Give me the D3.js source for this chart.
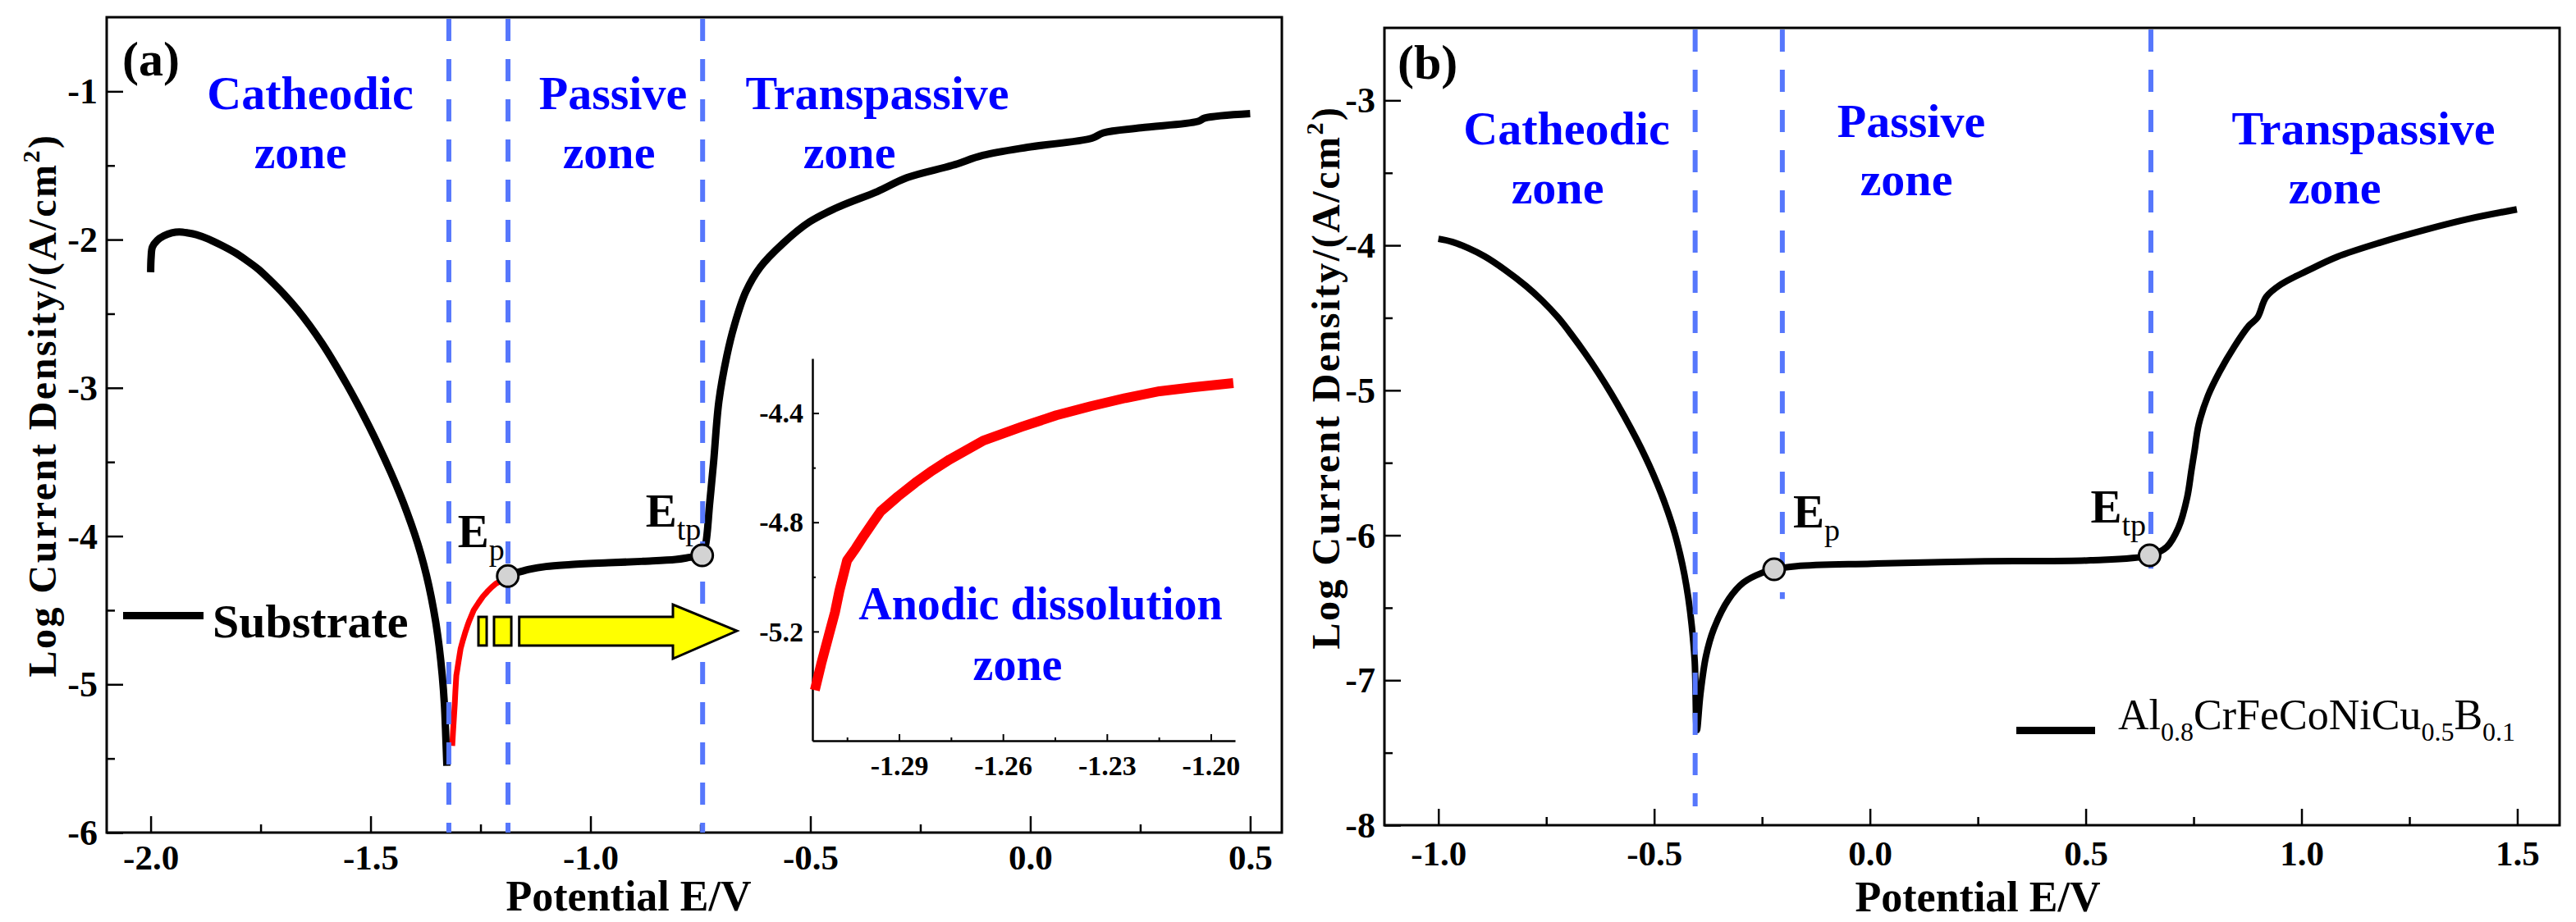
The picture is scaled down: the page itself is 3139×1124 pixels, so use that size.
<!DOCTYPE html>
<html>
<head>
<meta charset="utf-8">
<script src="https://cdnjs.cloudflare.com/ajax/libs/d3/7.8.5/d3.min.js"></script>
<style>
    html, body { margin: 0; padding: 0; background: #fff; }
    svg text { font-family: "Liberation Serif", "Times New Roman", serif; }
</style>
</head>
<body>
<div id="chart"></div>
<script>
// tick values
const xTicksA = [-2.0, -1.5, -1.0, -0.5, 0.0, 0.5];
const xMinorA = [-1.75, -1.25, -0.75, -0.25, 0.25];
const yTicksA = [-6, -5, -4, -3, -2, -1];
const yMinorA = [-5.5, -4.5, -3.5, -2.5, -1.5];
const xTicksB = [-1.0, -0.5, 0.0, 0.5, 1.0, 1.5];
const xMinorB = [-0.75, -0.25, 0.25, 0.75, 1.25];
const yTicksB = [-8, -7, -6, -5, -4, -3];
const yMinorB = [-7.5, -6.5, -5.5, -4.5, -3.5];
const insetXTicks = [-1.29, -1.26, -1.23, -1.20];
const insetXMinor = [-1.305, -1.275, -1.245, -1.215];
const insetYTicks = [-5.2, -4.8, -4.4];
const insetYMinor = [-5.4, -5.0, -4.6];

// (a) substrate: cathodic branch, anodic dissolution (red), passive + transpassive
const substrateCathodic = [
    [-2.000, -2.22], [-1.999, -2.12], [-1.996, -2.05], [-1.985, -2.005], [-1.970, -1.975],
    [-1.952, -1.955], [-1.935, -1.948], [-1.915, -1.955], [-1.896, -1.967], [-1.870, -1.995],
    [-1.840, -2.037], [-1.810, -2.085], [-1.784, -2.136], [-1.755, -2.200], [-1.728, -2.275],
    [-1.697, -2.368], [-1.666, -2.473], [-1.638, -2.581], [-1.610, -2.701], [-1.582, -2.834],
    [-1.554, -2.977], [-1.530, -3.107], [-1.504, -3.256], [-1.480, -3.402], [-1.454, -3.571],
    [-1.435, -3.704], [-1.417, -3.841], [-1.400, -3.984], [-1.386, -4.117], [-1.373, -4.263],
    [-1.362, -4.412], [-1.352, -4.577], [-1.344, -4.745], [-1.337, -4.941], [-1.332, -5.141],
    [-1.329, -5.351], [-1.3265, -5.550]
];
const anodicDissolution = [
    [-1.3143, -5.415], [-1.3125, -5.32], [-1.3102, -5.21], [-1.3085, -5.13], [-1.3072, -5.05],
    [-1.3050, -4.94], [-1.3025, -4.895], [-1.3002, -4.85], [-1.2975, -4.80], [-1.2953, -4.76],
    [-1.2903, -4.705], [-1.2853, -4.655], [-1.2803, -4.61], [-1.2754, -4.57], [-1.2655, -4.50],
    [-1.2545, -4.45], [-1.2446, -4.408], [-1.2347, -4.375], [-1.2247, -4.345], [-1.2148, -4.32],
    [-1.2049, -4.305], [-1.1935, -4.29]
];
const substratePassive = [
    [-1.188, -4.27], [-1.175, -4.25], [-1.163, -4.243], [-1.140, -4.225], [-1.101, -4.205],
    [-1.050, -4.193], [-0.959, -4.180], [-0.880, -4.170], [-0.806, -4.158], [-0.773, -4.143],
    [-0.746, -4.130], [-0.738, -4.054], [-0.729, -3.780], [-0.720, -3.500], [-0.708, -3.090],
    [-0.690, -2.785], [-0.673, -2.580], [-0.647, -2.353], [-0.614, -2.186], [-0.562, -2.025],
    [-0.502, -1.881], [-0.433, -1.776], [-0.348, -1.676], [-0.280, -1.582], [-0.177, -1.499],
    [-0.108, -1.432], [-0.006, -1.377], [0.140, -1.316], [0.166, -1.280], [0.252, -1.246],
    [0.381, -1.203], [0.397, -1.180], [0.500, -1.150]
];

// (b) Al0.8CrFeCoNiCu0.5B0.1
const alloyCurve = [
    [-1.000, -3.955], [-0.968, -3.976], [-0.930, -4.020], [-0.892, -4.077], [-0.845, -4.170],
    [-0.797, -4.280], [-0.760, -4.380], [-0.722, -4.500], [-0.690, -4.622], [-0.660, -4.745],
    [-0.630, -4.877], [-0.600, -5.020], [-0.570, -5.175], [-0.542, -5.330], [-0.520, -5.462],
    [-0.502, -5.580], [-0.484, -5.710], [-0.468, -5.840], [-0.453, -5.980], [-0.440, -6.130],
    [-0.430, -6.270], [-0.421, -6.430], [-0.413, -6.620], [-0.406, -6.870], [-0.401, -7.344],
    [-0.393, -7.100], [-0.380, -6.835], [-0.362, -6.648], [-0.327, -6.440], [-0.293, -6.326],
    [-0.249, -6.258], [-0.222, -6.235], [-0.170, -6.213], [0.004, -6.196], [0.266, -6.179],
    [0.511, -6.173], [0.648, -6.139], [0.688, -6.080], [0.715, -5.947], [0.735, -5.740],
    [0.745, -5.550], [0.752, -5.420], [0.762, -5.234], [0.783, -5.040], [0.810, -4.873],
    [0.844, -4.700], [0.878, -4.555], [0.898, -4.498], [0.918, -4.357], [0.952, -4.270],
    [1.013, -4.176], [1.082, -4.080], [1.183, -3.980], [1.285, -3.894], [1.387, -3.818],
    [1.499, -3.752]
];

// zone boundaries (potential) and where each dashed line stops (log i)
const zoneBoundsA = [-1.322, -1.1875, -0.745];
const zoneEndsA = [-6, -6, -6];
const zoneBoundsB = [-0.405, -0.203, 0.651];
const zoneEndsB = [-7.87, -6.44, -6.23];

// Ep / Etp points
const keyPointsA = [{ sub: "p", x: -1.188, y: -4.27 }, { sub: "tp", x: -0.746, y: -4.13 }];
const keyPointsB = [{ sub: "p", x: -0.222, y: -6.235 }, { sub: "tp", x: 0.648, y: -6.139 }];

const zoneNames = ["Catheodic", "Passive", "Transpassive"];

// striped arrow (potential / log i of panel a)
const arrowStripes = [[-1.2547, -1.236], [-1.2193, -1.180]];
const arrowBody = [[-1.162, -4.545], [-0.8125, -4.545], [-0.8125, -4.462], [-0.667, -4.639],
    [-0.8125, -4.827], [-0.8125, -4.738], [-1.162, -4.738]];
const arrowBand = [-4.545, -4.738];

document.addEventListener('DOMContentLoaded', function() {
    const width = 3139, height = 1124;
    const svg = d3.select('#chart')
        .append('svg')
        .attr('width', width)
        .attr('height', height);

    const zoneBlue = "#0000ff";
    const dashBlue = "#5677fc";

    function drawPanel(p) {
        const x = d3.scaleLinear().domain(p.xDomain).range([p.left, p.right]);
        const y = d3.scaleLinear().domain(p.yDomain).range([p.bottom, p.top]);
        const g = svg.append("g");

        // axes with inward ticks
        const bx = g.append("g").attr("transform", `translate(0,${p.bottom})`)
            .call(d3.axisBottom(x).tickValues(p.xTicks).tickSizeInner(-20).tickSizeOuter(0));
        bx.selectAll("text").attr("y", p.tickBaseline).attr("dy", null)
            .style("font-size", "43px").style("font-weight", "bold").attr("fill", "#000")
            .text(d => d3.format(".1f")(d).replace("−", "-"));
        g.append("g").attr("transform", `translate(0,${p.bottom})`)
            .call(d3.axisBottom(x).tickValues(p.xMinor).tickSizeInner(-10).tickSizeOuter(0).tickFormat(""));

        const ly = g.append("g").attr("transform", `translate(${p.left},0)`)
            .call(d3.axisLeft(y).tickValues(p.yTicks).tickSizeInner(-20).tickSizeOuter(0).tickPadding(11));
        ly.selectAll("text").attr("dy", "0.33em")
            .style("font-size", "44px").style("font-weight", "bold").attr("fill", "#000")
            .text(d => String(d));
        g.append("g").attr("transform", `translate(${p.left},0)`)
            .call(d3.axisLeft(y).tickValues(p.yMinor).tickSizeInner(-10).tickSizeOuter(0).tickFormat(""));

        g.selectAll(".domain").remove();
        g.selectAll(".tick line").attr("stroke", "#000").attr("stroke-width", 2.5);

        g.append("rect")
            .attr("x", p.left).attr("y", p.top)
            .attr("width", p.right - p.left).attr("height", p.bottom - p.top)
            .attr("fill", "none").attr("stroke", "#000").attr("stroke-width", 3);

        // axis titles
        g.append("text")
            .attr("x", p.xTitle[0]).attr("y", p.xTitle[1])
            .attr("text-anchor", "middle")
            .style("font-size", "52px").style("font-weight", "bold")
            .text("Potential E/V");

        const yt = g.append("text")
            .attr("transform", `translate(${p.yTitle[0]},${p.yTitle[1]}) rotate(-90)`)
            .attr("text-anchor", "middle")
            .style("font-size", "48px").style("font-weight", "bold")
            .style("letter-spacing", "2.5px");
        yt.append("tspan").text("Log Current Density/(A/cm");
        yt.append("tspan").attr("dy", -20).style("font-size", "30px").text("2");
        yt.append("tspan").attr("dy", 20).text(")");

        // panel letter
        g.append("text")
            .attr("x", p.letterPos[0]).attr("y", p.letterPos[1])
            .style("font-size", "60px").style("font-weight", "bold")
            .text(p.letter);

        return { g, x, y };
    }

    const line = (x, y, curve) => d3.line().x(d => x(d[0])).y(d => y(d[1])).curve(curve);

    function drawZones(ctx, bounds, ends, p) {
        ctx.g.append("g").selectAll("line")
            .data(bounds)
            .join("line")
            .attr("x1", d => ctx.x(d)).attr("x2", d => ctx.x(d))
            .attr("y1", p.top + 2)
            .attr("y2", (d, i) => ctx.y(ends[i]))
            .attr("stroke", dashBlue)
            .attr("stroke-width", 6)
            .attr("stroke-dasharray", "27,22");
    }

    function drawZoneText(ctx, spots) {
        spots.forEach((s, i) => {
            [zoneNames[i], "zone"].forEach((t, j) => {
                ctx.g.append("text")
                    .attr("x", s.xs[j]).attr("y", s.ys[j])
                    .attr("text-anchor", "middle")
                    .attr("fill", zoneBlue)
                    .style("font-size", "58px").style("font-weight", "bold")
                    .text(t);
            });
        });
    }

    function drawKeyPoints(ctx, pts, offsets) {
        ctx.g.append("g").selectAll("circle")
            .data(pts)
            .join("circle")
            .attr("cx", d => ctx.x(d.x)).attr("cy", d => ctx.y(d.y))
            .attr("r", 13)
            .attr("fill", "#d3d3d3")
            .attr("stroke", "#000")
            .attr("stroke-width", 3);
        pts.forEach((d, i) => {
            const t = ctx.g.append("text")
                .attr("x", ctx.x(d.x) + offsets[i][0])
                .attr("y", ctx.y(d.y) + offsets[i][1])
                .style("font-size", "57px").style("font-weight", "bold");
            t.append("tspan").text("E");
            t.append("tspan").attr("dy", 16).style("font-size", "38px").style("font-weight", "normal").text(d.sub);
        });
    }

    // ---------- panel (a) ----------
    const pA = {
        left: 130, right: 1562, top: 21, bottom: 1015,
        xDomain: [-2.1, 0.572], yDomain: [-6, -0.5],
        xTicks: xTicksA, xMinor: xMinorA, yTicks: yTicksA, yMinor: yMinorA, tickBaseline: 45,
        xTitle: [766, 1110], yTitle: [68, 494], letter: "(a)", letterPos: [149, 92]
    };
    const a = drawPanel(pA);

    a.g.append("path").datum(substrateCathodic)
        .attr("d", line(a.x, a.y, d3.curveCatmullRom.alpha(0.5)))
        .attr("fill", "none").attr("stroke", "#000").attr("stroke-width", 9)
        .attr("stroke-linejoin", "round");
    a.g.append("path").datum(anodicDissolution)
        .attr("d", line(a.x, a.y, d3.curveLinear))
        .attr("fill", "none").attr("stroke", "#ff0000").attr("stroke-width", 7)
        .attr("stroke-linejoin", "round");
    a.g.append("path").datum(substratePassive)
        .attr("d", line(a.x, a.y, d3.curveCatmullRom.alpha(0.5)))
        .attr("fill", "none").attr("stroke", "#000").attr("stroke-width", 9)
        .attr("stroke-linejoin", "round");

    drawZones(a, zoneBoundsA, zoneEndsA, pA);

    // striped arrow
    a.g.append("g").selectAll("rect")
        .data(arrowStripes)
        .join("rect")
        .attr("x", d => a.x(d[0])).attr("width", d => a.x(d[1]) - a.x(d[0]))
        .attr("y", a.y(arrowBand[0])).attr("height", a.y(arrowBand[1]) - a.y(arrowBand[0]))
        .attr("fill", "#ffff00").attr("stroke", "#000").attr("stroke-width", 3);
    a.g.append("path").datum(arrowBody)
        .attr("d", d => "M" + d.map(q => [a.x(q[0]), a.y(q[1])].join(",")).join("L") + "Z")
        .attr("fill", "#ffff00").attr("stroke", "#000").attr("stroke-width", 3)
        .attr("stroke-linejoin", "miter");

    drawKeyPoints(a, keyPointsA, [[-61, -35], [-69, -35]]);
    drawZoneText(a, [
        { xs: [378, 366], ys: [133, 205] },
        { xs: [747, 742], ys: [133, 205] },
        { xs: [1069, 1035], ys: [133, 205] }
    ]);

    // legend (a)
    a.g.append("line").attr("x1", 150).attr("x2", 248).attr("y1", 750.5).attr("y2", 750.5)
        .attr("stroke", "#000").attr("stroke-width", 9);
    a.g.append("text").attr("x", 259).attr("y", 777)
        .style("font-size", "58px").style("font-weight", "bold").text("Substrate");

    // inset: anodic dissolution zone
    const ix = d3.scaleLinear().domain([-1.315, -1.193]).range([990, 1505]);
    const iy = d3.scaleLinear().domain([-5.6, -4.2]).range([903, 437]);
    const ins = svg.append("g");
    const ibx = ins.append("g").attr("transform", "translate(0,903)")
        .call(d3.axisBottom(ix).tickValues(insetXTicks).tickSizeInner(-8).tickSizeOuter(0));
    ibx.selectAll("text").attr("y", 42).attr("dy", null)
        .text(d => d3.format(".2f")(d).replace("−", "-"));
    ins.append("g").attr("transform", "translate(0,903)")
        .call(d3.axisBottom(ix).tickValues(insetXMinor).tickSizeInner(-4).tickSizeOuter(0).tickFormat(""))
        .select(".domain").remove();
    const ily = ins.append("g").attr("transform", "translate(990,0)")
        .call(d3.axisLeft(iy).tickValues(insetYTicks).tickSizeInner(-8).tickSizeOuter(0).tickPadding(11));
    ily.selectAll("text").attr("dy", "0.33em")
        .text(d => d3.format(".1f")(d).replace("−", "-"));
    ins.append("g").attr("transform", "translate(990,0)")
        .call(d3.axisLeft(iy).tickValues(insetYMinor).tickSizeInner(-4).tickSizeOuter(0).tickFormat(""))
        .select(".domain").remove();
    ins.selectAll(".domain").attr("stroke", "#000").attr("stroke-width", 2.5);
    ins.selectAll(".tick line").attr("stroke", "#000").attr("stroke-width", 2);
    ins.selectAll(".tick text").attr("fill", "#000")
        .style("font-size", "34px").style("font-weight", "bold");

    ins.append("path").datum(anodicDissolution)
        .attr("d", line(ix, iy, d3.curveLinear))
        .attr("fill", "none").attr("stroke", "#ff0000").attr("stroke-width", 12)
        .attr("stroke-linejoin", "round");
    ins.append("text").attr("x", 1268).attr("y", 755).attr("text-anchor", "middle")
        .attr("fill", zoneBlue).style("font-size", "56px").style("font-weight", "bold")
        .text("Anodic dissolution");
    ins.append("text").attr("x", 1240).attr("y", 829).attr("text-anchor", "middle")
        .attr("fill", zoneBlue).style("font-size", "56px").style("font-weight", "bold")
        .text("zone");

    // ---------- panel (b) ----------
    const pB = {
        left: 1687, right: 3119, top: 34, bottom: 1006,
        xDomain: [-1.125, 1.598], yDomain: [-8, -2.5],
        xTicks: xTicksB, xMinor: xMinorB, yTicks: yTicksB, yMinor: yMinorB, tickBaseline: 49,
        xTitle: [2410, 1111], yTitle: [1632, 460], letter: "(b)", letterPos: [1703, 96]
    };
    const b = drawPanel(pB);

    b.g.append("path").datum(alloyCurve)
        .attr("d", line(b.x, b.y, d3.curveCatmullRom.alpha(0.5)))
        .attr("fill", "none").attr("stroke", "#000").attr("stroke-width", 8)
        .attr("stroke-linejoin", "round");

    drawZones(b, zoneBoundsB, zoneEndsB, pB);
    drawKeyPoints(b, keyPointsB, [[23, -51], [-72, -40]]);
    drawZoneText(b, [
        { xs: [1909, 1898], ys: [176, 248] },
        { xs: [2329, 2323], ys: [167, 238] },
        { xs: [2880, 2845], ys: [176, 248] }
    ]);

    // legend (b)
    b.g.append("line").attr("x1", 2457).attr("x2", 2553).attr("y1", 890.5).attr("y2", 890.5)
        .attr("stroke", "#000").attr("stroke-width", 9);
    const lt = b.g.append("text").attr("x", 2581).attr("y", 903).style("font-size", "52px");
    [["Al", "0.8"], ["CrFeCoNiCu", "0.5"], ["B", "0.1"]].forEach(part => {
        lt.append("tspan").attr("dy", lt.selectAll("tspan").size() ? -14 : 0).text(part[0]);
        lt.append("tspan").attr("dy", 14).style("font-size", "32px").text(part[1]);
    });
});
</script>
</body>
</html>
